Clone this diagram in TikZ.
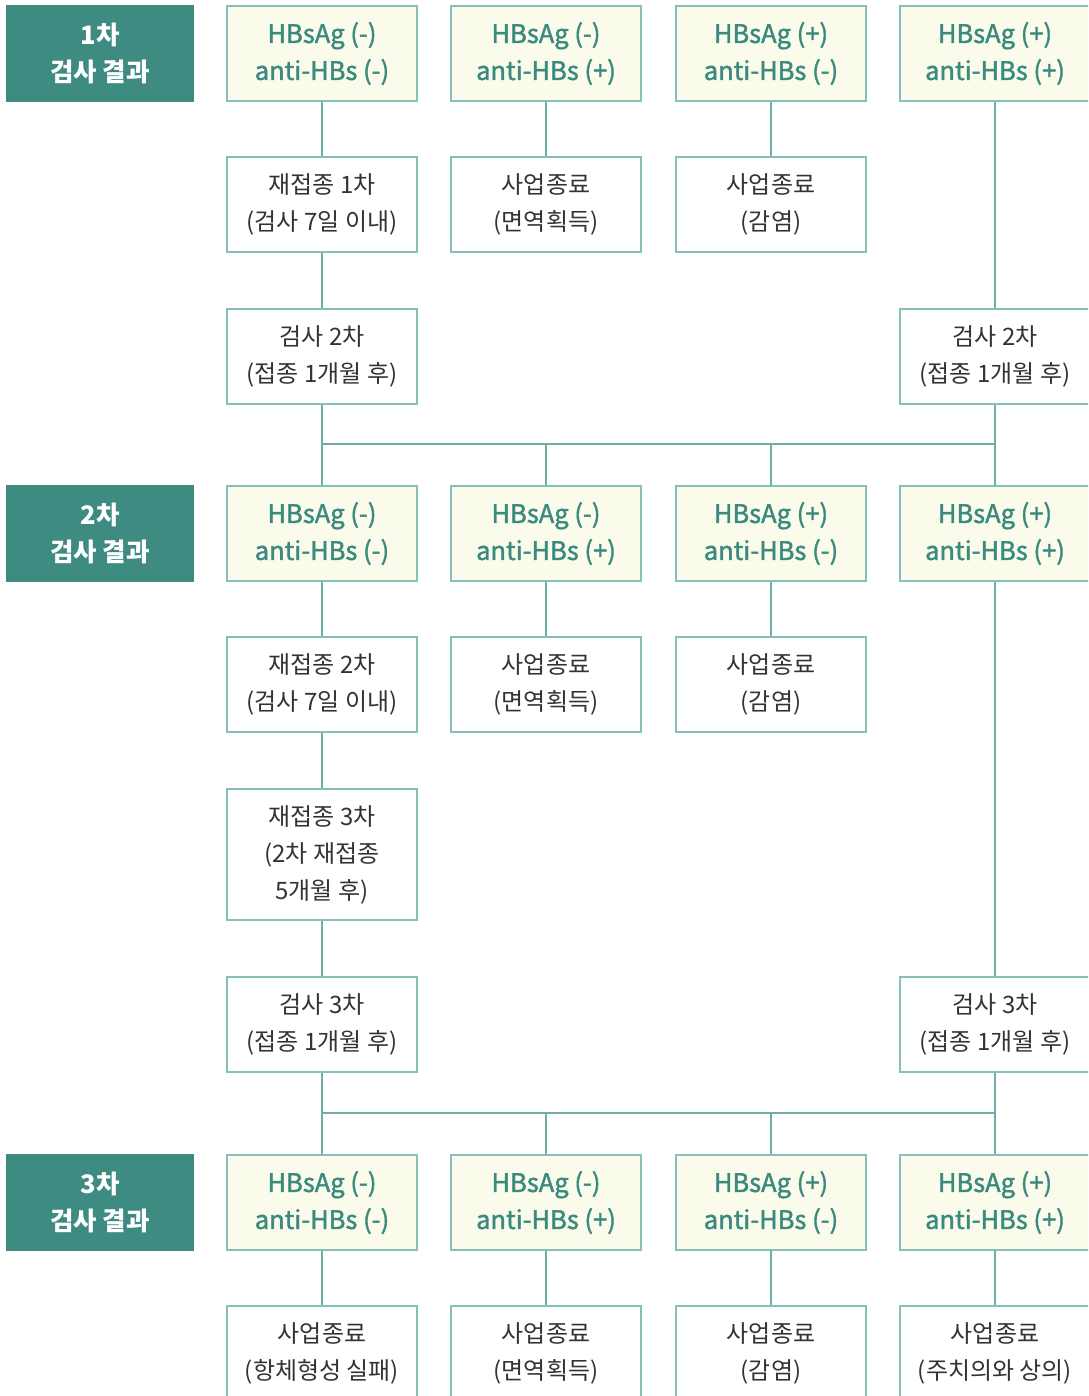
\documentclass[tikz,border=0pt]{standalone}
\usepackage{fontspec}
\setmainfont{Noto Sans CJK KR}
\newfontfamily\kmed[FakeBold=1.6]{Noto Sans CJK KR}
\definecolor{teal1}{HTML}{3E8B82}
\definecolor{tealtxt}{HTML}{3A8A7F}
\definecolor{bordc}{HTML}{86C0B8}
\definecolor{linec}{HTML}{6FAEA6}
\definecolor{resfill}{HTML}{FAFBEB}
\definecolor{txtc}{HTML}{333333}
\begin{document}
\begin{tikzpicture}[x=1pt,y=-1pt,
  base/.style={draw=bordc,line width=1.4pt,minimum width=190pt,minimum height=95pt,inner sep=0pt,align=center,font=\fontsize{24}{37}\selectfont},
  hdr/.style={base,fill=teal1,draw=teal1,minimum width=186pt,text=white,font=\fontsize{25.5}{37}\selectfont\bfseries},
  res/.style={base,fill=resfill,text=tealtxt,font=\fontsize{25.5}{37}\selectfont\kmed},
  plain/.style={base,fill=white,text=txtc},
  conn/.style={draw=linec,line width=1.4pt}]
\useasboundingbox (0,0) rectangle (1088,1396);
\clip (0,0) rectangle (1088,1396);
% headers
\node[hdr] (h1) at (100,53.5) {1차\\검사 결과};
\node[hdr] (h2) at (100,533.5) {2차\\검사 결과};
\node[hdr] (h3) at (100,1202.5) {3차\\검사 결과};
% row 1
\node[res] (a1) at (322,53.5) {HBsAg (-)\\anti-HBs (-)};
\node[res] (a2) at (546,53.5) {HBsAg (-)\\anti-HBs (+)};
\node[res] (a3) at (771,53.5) {HBsAg (+)\\anti-HBs (-)};
\node[res] (a4) at (995,53.5) {HBsAg (+)\\anti-HBs (+)};
% row 2
\node[plain] (b1) at (322,204.5) {재접종 1차\\(검사 7일 이내)};
\node[plain] (b2) at (546,204.5) {사업종료\\(면역획득)};
\node[plain] (b3) at (771,204.5) {사업종료\\(감염)};
% row 3
\node[plain] (c1) at (322,356.5) {검사 2차\\(접종 1개월 후)};
\node[plain] (c4) at (995,356.5) {검사 2차\\(접종 1개월 후)};
% row 4
\node[res] (d1) at (322,533.5) {HBsAg (-)\\anti-HBs (-)};
\node[res] (d2) at (546,533.5) {HBsAg (-)\\anti-HBs (+)};
\node[res] (d3) at (771,533.5) {HBsAg (+)\\anti-HBs (-)};
\node[res] (d4) at (995,533.5) {HBsAg (+)\\anti-HBs (+)};
% row 5
\node[plain] (e1) at (322,684.5) {재접종 2차\\(검사 7일 이내)};
\node[plain] (e2) at (546,684.5) {사업종료\\(면역획득)};
\node[plain] (e3) at (771,684.5) {사업종료\\(감염)};
% row 6
\node[plain,minimum height=131pt] (f1) at (322,854.5) {재접종 3차\\(2차 재접종\\5개월 후)};
% row 7
\node[plain] (g1) at (322,1024.5) {검사 3차\\(접종 1개월 후)};
\node[plain] (g4) at (995,1024.5) {검사 3차\\(접종 1개월 후)};
% row 8
\node[res] (i1) at (322,1202.5) {HBsAg (-)\\anti-HBs (-)};
\node[res] (i2) at (546,1202.5) {HBsAg (-)\\anti-HBs (+)};
\node[res] (i3) at (771,1202.5) {HBsAg (+)\\anti-HBs (-)};
\node[res] (i4) at (995,1202.5) {HBsAg (+)\\anti-HBs (+)};
% row 9
\node[plain] (j1) at (322,1353.5) {사업종료\\(항체형성 실패)};
\node[plain] (j2) at (546,1353.5) {사업종료\\(면역획득)};
\node[plain] (j3) at (771,1353.5) {사업종료\\(감염)};
\node[plain] (j4) at (995,1353.5) {사업종료\\(주치의와 상의)};
% junction coordinates
\coordinate (k1) at (322,444);
\coordinate (k4) at (995,444);
\coordinate (m1) at (322,1113);
\coordinate (m4) at (995,1113);
% connectors
\draw[conn] (a1) -- (b1);
\draw[conn] (a2) -- (b2);
\draw[conn] (a3) -- (b3);
\draw[conn] (b1) -- (c1);
\draw[conn] (a4) -- (c4);
\draw[conn] (c1) -- (d1);
\draw[conn] (c4) -- (d4);
\draw[conn] (k1) -- (k4);
\draw[conn] (d2.north |- k1) -- (d2);
\draw[conn] (d3.north |- k1) -- (d3);
\draw[conn] (d1) -- (e1);
\draw[conn] (d2) -- (e2);
\draw[conn] (d3) -- (e3);
\draw[conn] (e1) -- (f1);
\draw[conn] (f1) -- (g1);
\draw[conn] (d4) -- (g4);
\draw[conn] (g1) -- (i1);
\draw[conn] (g4) -- (i4);
\draw[conn] (m1) -- (m4);
\draw[conn] (i2.north |- m1) -- (i2);
\draw[conn] (i3.north |- m1) -- (i3);
\draw[conn] (i1) -- (j1);
\draw[conn] (i2) -- (j2);
\draw[conn] (i3) -- (j3);
\draw[conn] (i4) -- (j4);
\end{tikzpicture}
\end{document}
